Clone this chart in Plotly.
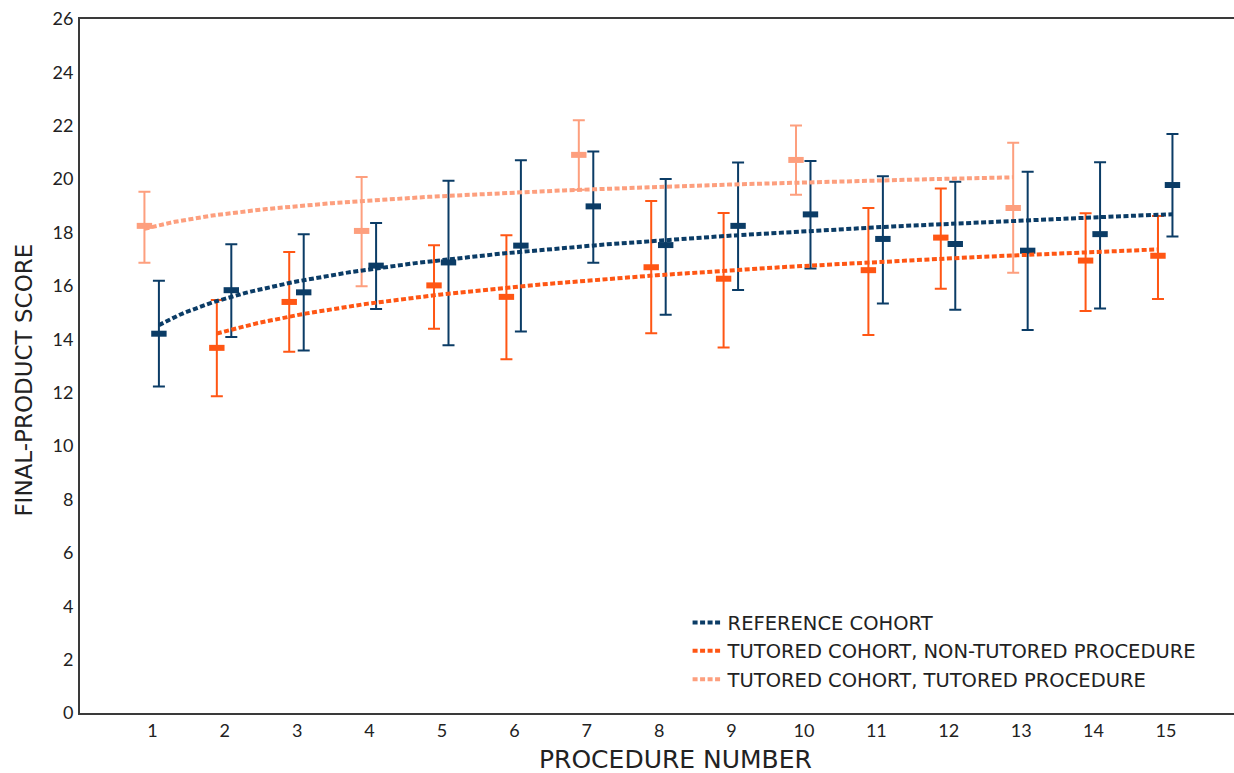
import numpy as np
import plotly.graph_objects as go

# Procedure numbers per group
ref_proc = [1, 2, 3, 4, 5, 6, 7, 8, 9, 10, 11, 12, 13, 14, 15]
nontut_proc = [2, 3, 5, 6, 8, 9, 11, 12, 14, 15]
tut_proc = [1, 4, 7, 10, 13]

# Mean final-product scores
ref_mean = [14.21, 15.84, 15.76, 16.76, 16.88, 17.51, 18.98, 17.53, 18.25, 18.68,
            17.76, 17.57, 17.32, 17.94, 19.78]
nontut_mean = [13.68, 15.40, 16.02, 15.59, 16.70, 16.27, 16.59, 17.81, 16.95, 17.13]
tut_mean = [18.25, 18.06, 20.91, 20.72, 18.92]

# Upper / lower ends of the error bars
ref_hi = [16.19, 17.56, 17.94, 18.36, 19.94, 20.71, 21.04, 20.01, 20.62, 20.68,
          20.11, 19.90, 20.28, 20.63, 21.69]
ref_lo = [12.23, 14.09, 13.58, 15.14, 13.78, 14.29, 16.87, 14.92, 15.85, 16.65,
          15.34, 15.11, 14.35, 15.15, 17.85]
nontut_hi = [15.47, 17.27, 17.52, 17.90, 19.18, 18.73, 18.92, 19.65, 18.72, 18.62]
nontut_lo = [11.87, 13.53, 14.40, 13.25, 14.23, 13.69, 14.16, 15.89, 15.06, 15.51]
tut_hi = [19.53, 20.08, 22.21, 22.01, 21.36]
tut_lo = [16.87, 15.99, 19.60, 19.42, 16.49]

series_names = ["REFERENCE COHORT",
                "TUTORED COHORT, NON-TUTORED PROCEDURE",
                "TUTORED COHORT, TUTORED PROCEDURE"]
y_ticks = list(range(0, 27, 2))
x_ticks = list(range(1, 16))

BLUE = "#0b3c66"
ORANGE = "#ff5614"
LIGHT = "#fd9f7e"
AXIS = "#3a3a3a"
TEXT = "#222222"
TITLE_FONT = "DejaVu Sans, sans-serif"
TICK_FONT = "Lato, sans-serif"

groups = [
    (ref_proc, ref_mean, ref_hi, ref_lo, BLUE, 0.09),
    (nontut_proc, nontut_mean, nontut_hi, nontut_lo, ORANGE, -0.11),
    (tut_proc, tut_mean, tut_hi, tut_lo, LIGHT, -0.11),
]

fig = go.Figure()

# Means with error bars (side-by-side dodge around each procedure number)
for proc, mean, hi, lo, color, dx in groups:
    p = np.array(proc, dtype=float)
    m = np.array(mean)
    fig.add_trace(go.Scatter(
        x=p + dx, y=m, mode="markers", showlegend=False, hoverinfo="skip",
        marker=dict(symbol="line-ew", size=11, color=color,
                    line=dict(color=color, width=6)),
        error_y=dict(type="data", symmetric=False,
                     array=np.array(hi) - m, arrayminus=m - np.array(lo),
                     color=color, thickness=2, width=6),
    ))

# Logarithmic trend lines (least squares on ln(procedure))
for (proc, mean, hi, lo, color, dx), name in zip(groups, series_names):
    p = np.array(proc, dtype=float)
    b, a = np.polyfit(np.log(p), np.array(mean), 1)
    xx = np.linspace(p.min(), p.max(), 200)
    fig.add_trace(go.Scatter(
        x=xx + dx, y=a + b * np.log(xx), mode="lines", name=name,
        hoverinfo="skip",
        line=dict(color=color, width=4, dash="5px,2.5px"),
    ))

fig.update_layout(
    width=1234, height=773,
    margin=dict(l=80, r=0, t=19, b=60),
    paper_bgcolor="white", plot_bgcolor="white",
    font=dict(family=TICK_FONT, color=TEXT),
    showlegend=True,
    legend=dict(
        x=0.5265, y=0.158, xanchor="left", yanchor="top",
        bgcolor="rgba(0,0,0,0)", borderwidth=0,
        font=dict(family=TITLE_FONT, size=19.5, color=TEXT),
        itemwidth=30, traceorder="normal",
    ),
    annotations=[
        dict(text="PROCEDURE NUMBER", xref="paper", yref="paper",
             x=0.5156, y=-0.067, xanchor="center", yanchor="middle",
             showarrow=False, borderpad=0,
             font=dict(family=TITLE_FONT, size=25, color=TEXT)),
        dict(text="FINAL-PRODUCT SCORE", xref="paper", yref="paper",
             x=-0.0485, y=0.479, xanchor="center", yanchor="middle",
             textangle=-90, showarrow=False, borderpad=0,
             font=dict(family=TITLE_FONT, size=23, color=TEXT)),
    ],
)

fig.update_xaxes(
    range=[0, 15.94], tickmode="array", tickvals=x_ticks,
    ticktext=[str(v) for v in x_ticks],
    showgrid=False, zeroline=False,
    showline=True, linecolor=AXIS, linewidth=2, mirror=True,
    ticks="", ticklabelstandoff=0,
    tickfont=dict(family=TICK_FONT, size=18, color=TEXT),
)
fig.update_yaxes(
    range=[0, 26], tickmode="array", tickvals=y_ticks,
    showgrid=False, zeroline=False,
    showline=True, linecolor=AXIS, linewidth=2,
    ticks="", ticklabelstandoff=1,
    tickfont=dict(family=TICK_FONT, size=18, color=TEXT),
)

fig.write_html("out.html")
